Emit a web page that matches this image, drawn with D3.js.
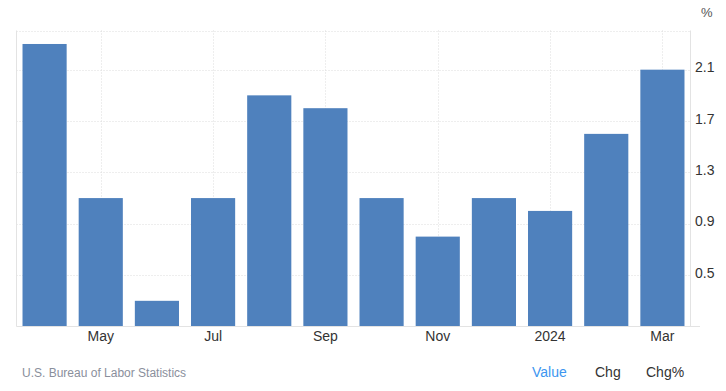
<!DOCTYPE html>
<html><head><meta charset="utf-8">
<script src="https://cdn.jsdelivr.net/npm/d3@7"></script>
<style>body{margin:0;background:#fff}svg{display:block;font-family:"Liberation Sans",Arial,sans-serif}</style>
</head><body><svg id="c" width="726" height="391"></svg>
<script>
const months = ["Apr","May","Jun","Jul","Aug","Sep","Oct","Nov","Dec","Jan","Feb","Mar"];
const values = [2.3,1.1,0.3,1.1,1.9,1.8,1.1,0.8,1.1,1.0,1.6,2.1];
const xTickLabels = {"May":"May","Jul":"Jul","Sep":"Sep","Nov":"Nov","Jan":"2024","Mar":"Mar"};
const yTicks = [0.5,0.9,1.3,1.7,2.1];
const source = "U.S. Bureau of Labor Statistics";
const toggles = ["Value","Chg","Chg%"];

const svg = d3.select("#c");
const L=16.5, R=690.5, T=30.5, B=326.5;
const x = d3.scaleBand().domain(months).range([L,R]).paddingInner(0.214).paddingOuter(0.107);
const y = d3.scaleLinear().domain([0.1,2.405]).range([B,T]);
const grid="#dcdcdc";

// horizontal gridlines
svg.append("g").selectAll("line").data([...yTicks, 2.405]).join("line")
  .attr("x1",L).attr("x2",R).attr("y1",d=>Math.round(y(d))+0.5).attr("y2",d=>Math.round(y(d))+0.5)
  .attr("stroke",grid).attr("stroke-dasharray","1,2");
// vertical gridlines
svg.append("g").selectAll("line").data(months.filter(m=>xTickLabels[m])).join("line")
  .attr("x1",d=>Math.round(x(d)+x.bandwidth()/2)+0.5).attr("x2",d=>Math.round(x(d)+x.bandwidth()/2)+0.5)
  .attr("y1",T).attr("y2",B).attr("stroke",grid).attr("stroke-dasharray","1,2");

// bars
svg.append("g").selectAll("rect").data(values).join("rect")
  .attr("x",(d,i)=>x(months[i])).attr("width",x.bandwidth())
  .attr("y",d=>y(d)).attr("height",d=>B-0.5-y(d))
  .attr("fill","#4f81bd");

// axis lines
svg.append("line").attr("x1",L).attr("x2",L).attr("y1",T).attr("y2",B).attr("stroke","#e3e3e3");
svg.append("line").attr("x1",R).attr("x2",R).attr("y1",T).attr("y2",B).attr("stroke","#e3e3e3");
svg.append("line").attr("x1",L).attr("x2",700).attr("y1",B).attr("y2",B).attr("stroke","#e3e3e3");

// y tick labels
svg.append("g").selectAll("text").data(yTicks).join("text")
  .attr("x",695).attr("y",d=>y(d)+2.6)
  .attr("font-size",14).attr("fill","#333").text(d=>d.toFixed(1));
svg.append("text").attr("x",701).attr("y",17).attr("font-size",13).attr("fill","#555").text("%");

// x tick labels
svg.append("g").selectAll("text").data(months.filter(m=>xTickLabels[m])).join("text")
  .attr("x",d=>x(d)+x.bandwidth()/2).attr("y",341).attr("text-anchor","middle")
  .attr("font-size",14).attr("fill","#333").text(d=>xTickLabels[d]);

// footer
svg.append("text").attr("x",22).attr("y",377).attr("font-size",12).attr("fill","#8a8f9c").text(source);
const tx=[532,595,646];
svg.append("g").selectAll("text").data(toggles).join("text")
  .attr("x",(d,i)=>tx[i]).attr("y",377).attr("font-size",14)
  .attr("fill",(d,i)=>i===0?"#3d96f0":"#333").text(d=>d);
</script></body></html>
